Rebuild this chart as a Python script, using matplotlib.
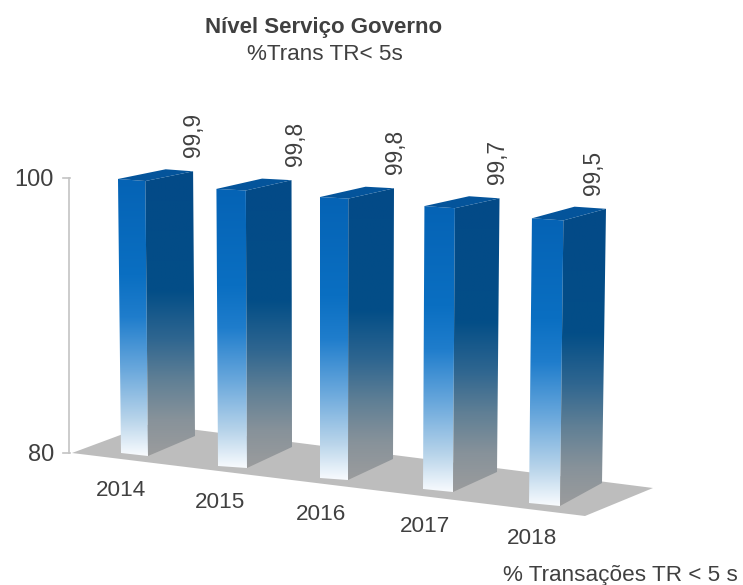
import matplotlib
matplotlib.use("Agg")
import matplotlib.pyplot as plt
from matplotlib.colors import LinearSegmentedColormap
from matplotlib.patches import Polygon
import numpy as np

years = ["2014", "2015", "2016", "2017", "2018"]
values = [99.9, 99.8, 99.8, 99.7, 99.5]
value_labels = ["99,9", "99,8", "99,8", "99,7", "99,5"]
axis_ticks = [80, 100]

# footprint of each bar on the floor, in pixels
base_left = [(121, 453), (218, 466), (320, 478), (423, 489), (529, 503)]
base_corner = [(148, 456), (247, 468), (348, 480), (453, 492), (560, 506)]
base_right = [(195, 436), (292, 447), (393, 459), (497, 472), (602, 483)]
label_x = [194, 296, 395, 497, 593]
year_pos = [(121, 490), (220, 502), (321, 515), (425, 526), (532, 539)]
floor = [(72, 453), (150, 424), (653, 488), (585, 516)]

TEXT = "#404040"
front_cmap = LinearSegmentedColormap.from_list("front", [
    (0.0, "#0563b5"), (0.35, "#0a6fc2"), (0.5, "#1f7dcc"),
    (0.69, "#6aa8dc"), (0.87, "#b8d4ea"), (1.0, "#f8fbfe")])
side_cmap = LinearSegmentedColormap.from_list("side", [
    (0.0, "#034a88"), (0.42, "#034e87"), (0.59, "#2f6690"),
    (0.73, "#5f7f95"), (0.87, "#87929a"), (1.0, "#9b9c9d")])


def scale_at(x, y):
    # pixels per axis unit grows towards the viewer
    return 13.77 - 0.00088 * (x - 121) + 0.0238 * (y - 453)


def lift(pt, value):
    x, y = pt
    dv = value - 80
    return (x + (x - 325) * 0.00074 * dv, y - scale_at(x, y) * dv)


def shaded_face(ax, pts, cmap, zorder):
    pts = np.array(pts)
    grad = np.linspace(0, 1, 256).reshape(-1, 1)
    extent = (pts[:, 0].min(), pts[:, 0].max(), pts[:, 1].max(), pts[:, 1].min())
    im = ax.imshow(grad, cmap=cmap, extent=extent, aspect="auto", origin="upper",
                   interpolation="bilinear", zorder=zorder)
    clip = Polygon(pts, closed=True, transform=ax.transData, fc="none", ec="none")
    ax.add_patch(clip)
    im.set_clip_path(clip)


fig = plt.figure(figsize=(7.43, 5.85), dpi=100)
ax = fig.add_axes([0, 0, 1, 1])
plt.rcParams["font.family"] = ["Liberation Sans", "DejaVu Sans"]

ax.add_patch(Polygon(floor, closed=True, fc="#bdbdbd", ec="none", zorder=1))

# value axis on the left wall
axis_y = [453 - (v - 80) * scale_at(121, 453) for v in axis_ticks]
ax.plot([69, 69], axis_y, color="#c4c4c4", lw=1.2, zorder=0)
for tick, y in zip(axis_ticks, axis_y):
    ax.plot([63, 70], [y, y], color="#c4c4c4", lw=1.2, zorder=0)
    ax.text(54, y + 2, str(tick), ha="right", va="center", fontsize=17, color=TEXT)

for i, value in enumerate(values):
    top_left = lift(base_left[i], value)
    top_corner = lift(base_corner[i], value)
    top_right = lift(base_right[i], value)
    top_back = (top_left[0] + top_right[0] - top_corner[0],
                top_left[1] + top_right[1] - top_corner[1])
    z = 2 + i
    shaded_face(ax, [top_left, top_corner, base_corner[i], base_left[i]], front_cmap, z)
    shaded_face(ax, [top_corner, top_right, base_right[i], base_corner[i]], side_cmap, z)
    ax.add_patch(Polygon([top_left, top_back, top_right, top_corner], closed=True,
                         fc="#04549b", ec="none", zorder=z))
    ax.text(label_x[i], top_right[1] - 14, value_labels[i], rotation=90, ha="center",
            va="bottom", fontsize=16.3, color=TEXT, zorder=10)
    ax.text(year_pos[i][0], year_pos[i][1], years[i], ha="center", va="center",
            fontsize=16.2, color=TEXT, zorder=10)

ax.text(324, 27, "Nível Serviço Governo", ha="center", va="center", fontsize=16,
        fontweight="bold", color=TEXT)
ax.text(325, 54, "%Trans TR< 5s", ha="center", va="center", fontsize=16.2, color=TEXT)
ax.text(738, 576, "% Transações TR < 5 s", ha="right", va="center", fontsize=16.2, color=TEXT)

ax.set_xlim(0, 743)
ax.set_ylim(585, 0)
ax.axis("off")
fig.savefig("out.png", dpi=100, facecolor="white")
